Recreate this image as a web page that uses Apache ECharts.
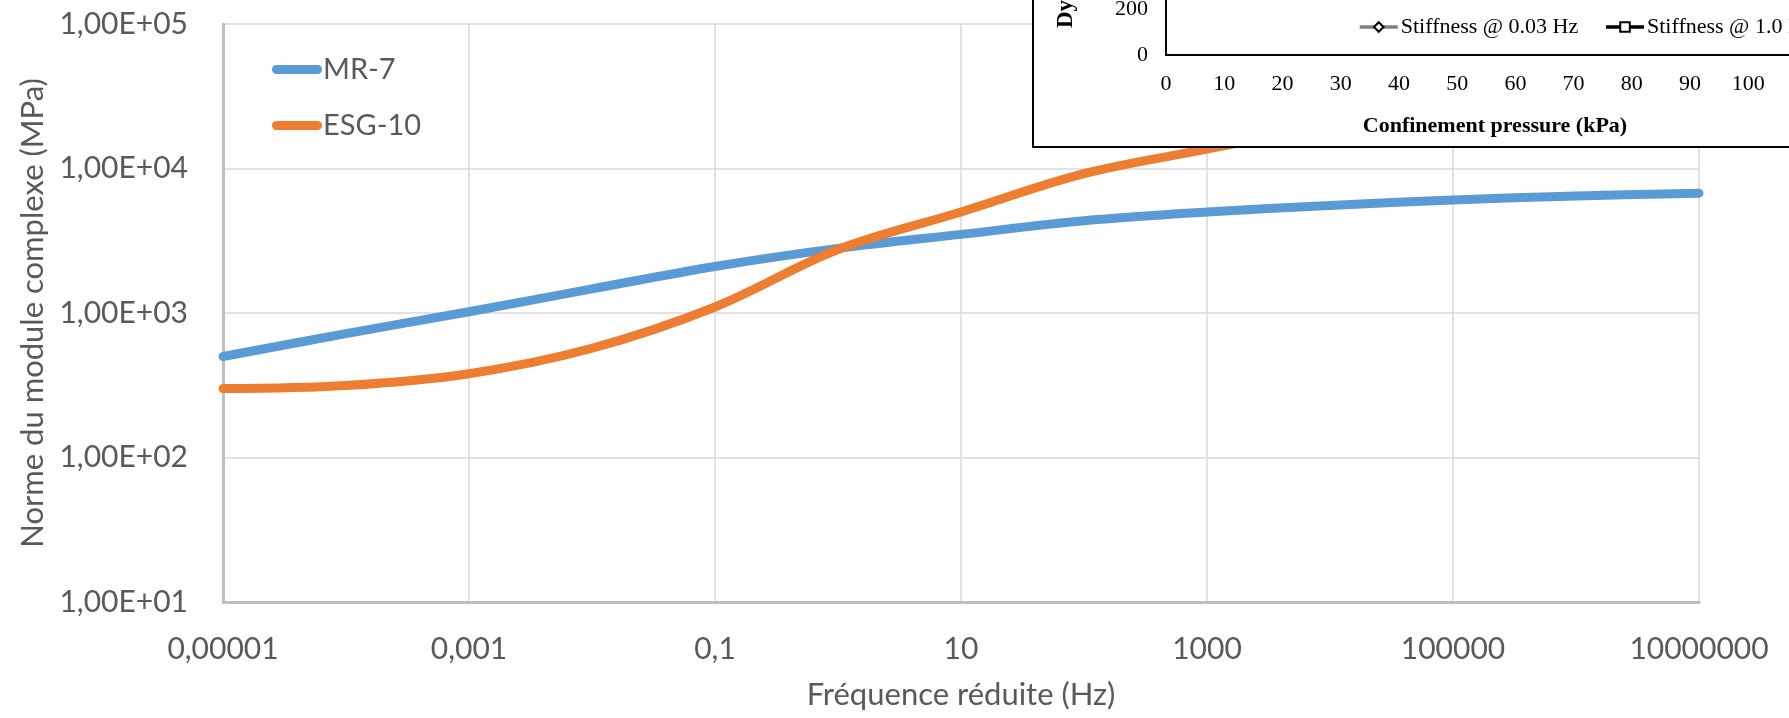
<!DOCTYPE html>
<html>
<head>
<meta charset="utf-8">
<script src="https://cdn.jsdelivr.net/npm/echarts@6/dist/echarts.min.js"></script>
<style>
    html, body { margin: 0; padding: 0; background: #fff; }
    #chart { width: 1789px; height: 718px; }
</style>
</head>
<body>
<div id="chart"></div>
<script>
// reduced frequency (Hz)
var freq = [1e-5, 1e-4, 1e-3, 1e-2, 1e-1, 1, 10, 100, 1e3, 1e4, 1e5, 1e6, 1e7];
// |E*| (MPa)
var mr7 = [500, 720, 1020, 1470, 2100, 2800, 3500, 4350, 5000, 5550, 6050, 6450, 6750];
var esg10 = [300, 315, 380, 570, 1100, 2750, 5000, 9200, 13600, 20000, 28000, 36000, 44000];

// pasted inset (other figure), only axes and legend are visible
var insetLegend = ['Stiffness @ 0.03 Hz', 'Stiffness @ 1.0 Hz'];

var chart = echarts.init(document.getElementById('chart'));

function sci(v) {
    var e = Math.round(Math.log10(v));
    var m = v / Math.pow(10, e);
    return m.toFixed(2).replace('.', ',') + 'E' + (e < 0 ? '-' : '+') + String(Math.abs(e)).padStart(2, '0');
}
function frLabel(v) {
    return String(Number(v.toPrecision(6))).replace('.', ',');
}
function pairs(xs, ys) {
    return xs.map(function (x, i) { return [x, ys[i]]; });
}

var grey = '#595959';
var font = 'Lato';
var serif = '"Liberation Serif", "Times New Roman", serif';

var option = {
    animation: false,
    backgroundColor: '#fff',
    grid: [
        { left: 223, right: 90, top: 24, bottom: 116, outerBoundsMode: 'none' },
        // inset grid, partly off screen
        { left: 1166, width: 658, top: -175, height: 230, outerBoundsMode: 'none' }
    ],
    legend: [{
        orient: 'vertical',
        left: 267,
        top: 50,
        itemWidth: 50,
        itemHeight: 9,
        itemGap: 27,
        icon: 'path://M4.5,0 H45.5 A4.5,4.5 0 0 1 45.5,9 H4.5 A4.5,4.5 0 0 1 4.5,0 Z',
        data: ['MR-7', 'ESG-10'],
        textStyle: { fontFamily: font, fontSize: 29, color: grey, padding: [0, 0, 0, -4] }
    }, {
        orient: 'horizontal',
        left: 1353,
        top: 11,
        width: 800,
        z: 60,
        itemWidth: 38,
        itemHeight: 12,
        itemGap: 26,
        data: insetLegend,
        lineStyle: { width: 3.5 },
        textStyle: { fontFamily: serif, fontSize: 22, color: '#000', padding: [0, 0, 0, -2] }
    }],
    xAxis: [{
        type: 'log',
        logBase: 10,
        min: 1e-5,
        max: 1e7,
        interval: 2,
        gridIndex: 0,
        name: 'Fréquence réduite (Hz)',
        nameLocation: 'middle',
        nameGap: 77,
        nameTextStyle: { fontFamily: font, fontSize: 31, color: grey },
        axisLine: { show: true, lineStyle: { color: '#bfbfbf', width: 3 } },
        axisTick: { show: false },
        axisLabel: { fontFamily: font, fontSize: 30, color: grey, margin: 32, formatter: frLabel },
        splitLine: { show: true, lineStyle: { color: '#d9d9d9', width: 1.5 } },
        minorTick: { show: false }
    }, {
        type: 'value',
        gridIndex: 1,
        min: 0,
        max: 113,
        interval: 10,
        z: 60,
        name: 'Confinement pressure (kPa)',
        nameLocation: 'middle',
        nameGap: 60,
        nameTextStyle: { fontFamily: serif, fontSize: 22, fontWeight: 'bold', color: '#000' },
        axisLine: { show: true, onZero: false, lineStyle: { color: '#000', width: 2 } },
        axisTick: { show: false },
        axisLabel: { fontFamily: serif, fontSize: 22, color: '#000', margin: 18, showMaxLabel: false },
        splitLine: { show: false }
    }],
    yAxis: [{
        type: 'log',
        logBase: 10,
        min: 10,
        max: 1e5,
        gridIndex: 0,
        name: 'Norme du module complexe (MPa)',
        nameLocation: 'middle',
        nameGap: 168,
        nameTextStyle: { fontFamily: font, fontSize: 31, color: grey },
        axisLine: { show: true, lineStyle: { color: '#bfbfbf', width: 3 } },
        axisTick: { show: false },
        axisLabel: { fontFamily: font, fontSize: 30, color: grey, margin: 35, formatter: sci },
        splitLine: { show: true, lineStyle: { color: '#d9d9d9', width: 1.5 } },
        minorTick: { show: false }
    }, {
        type: 'value',
        gridIndex: 1,
        min: 0,
        max: 1000,
        interval: 200,
        z: 60,
        axisLine: { show: true, lineStyle: { color: '#000', width: 2 } },
        axisTick: { show: false },
        axisLabel: { fontFamily: serif, fontSize: 22, color: '#000', margin: 18 },
        splitLine: { show: false }
    }],
    graphic: [{
        type: 'rect',
        z: 50,
        shape: { x: 1033, y: -5, width: 800, height: 152 },
        style: { fill: '#fff', stroke: '#000', lineWidth: 2 }
    }, {
        type: 'text',
        z: 61,
        x: 1066,
        y: 28,
        rotation: Math.PI / 2,
        style: {
            text: 'Dynamic stiffness (kN/mm)',
            fontFamily: serif,
            fontSize: 23,
            fontWeight: 'bold',
            fill: '#000',
            textAlign: 'left',
            textVerticalAlign: 'middle'
        }
    }],
    series: [{
        name: 'MR-7',
        type: 'line',
        smooth: 0.35,
        showSymbol: false,
        symbol: 'none',
        data: pairs(freq, mr7),
        lineStyle: { color: '#5b9bd5', width: 9, cap: 'round' },
        itemStyle: { color: '#5b9bd5' },
        z: 3
    }, {
        name: 'ESG-10',
        type: 'line',
        smooth: 0.35,
        showSymbol: false,
        symbol: 'none',
        data: pairs(freq, esg10),
        lineStyle: { color: '#ed7d31', width: 9, cap: 'round' },
        itemStyle: { color: '#ed7d31' },
        z: 3
    }, {
        name: insetLegend[0],
        type: 'line',
        xAxisIndex: 1,
        yAxisIndex: 1,
        data: [],
        symbol: 'emptyDiamond',
        symbolSize: 11,
        lineStyle: { color: '#808080', width: 3 },
        itemStyle: { color: '#000', borderColor: '#000', borderWidth: 1.5 },
        z: 60
    }, {
        name: insetLegend[1],
        type: 'line',
        xAxisIndex: 1,
        yAxisIndex: 1,
        data: [],
        symbol: 'emptyRect',
        symbolSize: 11,
        lineStyle: { color: '#000', width: 3 },
        itemStyle: { color: '#000', borderColor: '#000', borderWidth: 1.5 },
        z: 60
    }]
};

chart.setOption(option);
</script>
</body>
</html>
